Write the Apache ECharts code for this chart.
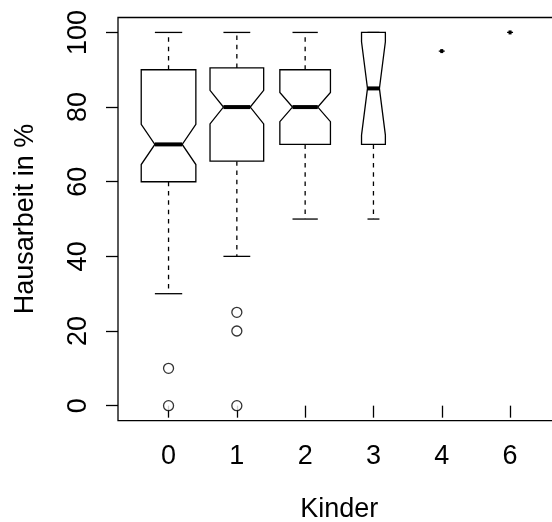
<!DOCTYPE html>
<html>
<head>
<meta charset="utf-8">
<script src="https://cdn.jsdelivr.net/npm/echarts@6/dist/echarts.min.js"></script>
<style>
html,body{margin:0;padding:0;background:#fff}
#chart{width:552px;height:522px}
</style>
</head>
<body>
<div id="chart"></div>
<script>
// Hausarbeit in % nach Anzahl Kinder (notched boxplot, varwidth)
var categories = ['0', '1', '2', '3', '4', '6'];
var counts = [84, 81, 72, 16, 1, 1];
var whiskerLow = [30, 40, 50, 50, 95, 100];
var q1 = [60, 65.5, 70, 70, 95, 100];
var medians = [70, 80, 80, 85, 95, 100];
var q3 = [90, 90.5, 90, 100, 95, 100];
var whiskerHigh = [100, 100, 100, 100, 95, 100];
var notchLow = [64.6, 75.5, 76.1, 72.5, 95, 100];
var notchHigh = [75.4, 84.5, 83.9, 97.5, 95, 100];
// [group index, value]
var outliers = [[0, 10], [0, 0], [1, 25], [1, 20], [1, 0]];
var yTicks = [0, 20, 40, 60, 80, 100];

var maxCount = Math.max.apply(null, counts);
var font = 'Liberation Sans, Arial, sans-serif';
var lw = 1.3;

var boxData = categories.map(function (c, i) {
    return [i + 1, whiskerLow[i], q1[i], medians[i], q3[i], whiskerHigh[i], notchLow[i], notchHigh[i], counts[i]];
});
var outlierData = outliers.map(function (o) { return [o[0] + 1, o[1]]; });
var xTicks = categories.map(function (c, i) { return i + 1; });

function renderBox(params, api) {
    var x = api.value(0);
    var half = 0.4 * Math.sqrt(api.value(8) / maxCount);
    var nh = half / 2;
    function p(dx, y) { return api.coord([x + dx, y]); }
    var wlo = api.value(1), lo = api.value(2), med = api.value(3), hi = api.value(4), whi = api.value(5);
    var nlo = api.value(6), nhi = api.value(7);
    var pts = [p(-half, lo), p(-half, nlo), p(-nh, med), p(-half, nhi), p(-half, hi),
               p(half, hi), p(half, nhi), p(nh, med), p(half, nlo), p(half, lo)];
    function seg(a, b, dash, w) {
        return {
            type: 'line',
            shape: { x1: a[0], y1: a[1], x2: b[0], y2: b[1] },
            style: { stroke: '#000', lineWidth: w || lw, lineDash: dash ? [4.5, 4.8] : null }
        };
    }
    var children = [];
    if (whi > hi) children.push(seg(p(0, hi), p(0, whi), true));
    if (wlo < lo) children.push(seg(p(0, lo), p(0, wlo), true));
    children.push(seg(p(-nh, whi), p(nh, whi)));
    children.push(seg(p(-nh, wlo), p(nh, wlo)));
    children.push({
        type: 'polygon',
        shape: { points: pts },
        style: { fill: '#fff', stroke: '#000', lineWidth: lw }
    });
    children.push(seg(p(-nh, med), p(nh, med), false, 4));
    return { type: 'group', children: children };
}

var chart = echarts.init(document.getElementById('chart'));
var option = {
    animation: false,
    backgroundColor: '#fff',
    grid: {
        left: 118, top: 17.5, width: 442.6, height: 403.1,
        outerBoundsMode: 'none',
        containLabel: false,
        show: true, borderColor: '#000', borderWidth: lw, backgroundColor: 'transparent'
    },
    xAxis: {
        type: 'value',
        min: 0.26,
        max: 6.74,
        name: 'Kinder',
        nameLocation: 'middle',
        nameGap: 75,
        nameTextStyle: { color: '#000', fontSize: 27, fontFamily: font },
        axisLine: { show: false },
        splitLine: { show: false },
        axisTick: { show: true, length: 12, customValues: xTicks, lineStyle: { color: '#000', width: lw } },
        axisLabel: {
            customValues: xTicks,
            margin: 22,
            color: '#000', fontSize: 27, fontFamily: font,
            formatter: function (v) { return categories[Math.round(v) - 1]; }
        }
    },
    yAxis: {
        type: 'value',
        min: -4,
        max: 104,
        name: 'Hausarbeit in %',
        nameLocation: 'middle',
        nameRotate: 90,
        nameGap: 79,
        nameTextStyle: { color: '#000', fontSize: 27, fontFamily: font },
        axisLine: { show: false },
        splitLine: { show: false },
        axisTick: { show: true, length: 12, customValues: yTicks, lineStyle: { color: '#000', width: lw } },
        axisLabel: {
            customValues: yTicks,
            rotate: 90,
            margin: 26,
            color: '#000', fontSize: 27, fontFamily: font
        }
    },
    series: [
        {
            type: 'custom',
            renderItem: renderBox,
            data: boxData,
            clip: false,
            encode: { x: 0, y: [1, 5] }
        },
        {
            type: 'scatter',
            data: outlierData,
            symbol: 'circle',
            symbolSize: 10,
            itemStyle: { color: '#fff', borderColor: '#000', borderWidth: lw }
        }
    ]
};
chart.setOption(option);
</script>
</body>
</html>
